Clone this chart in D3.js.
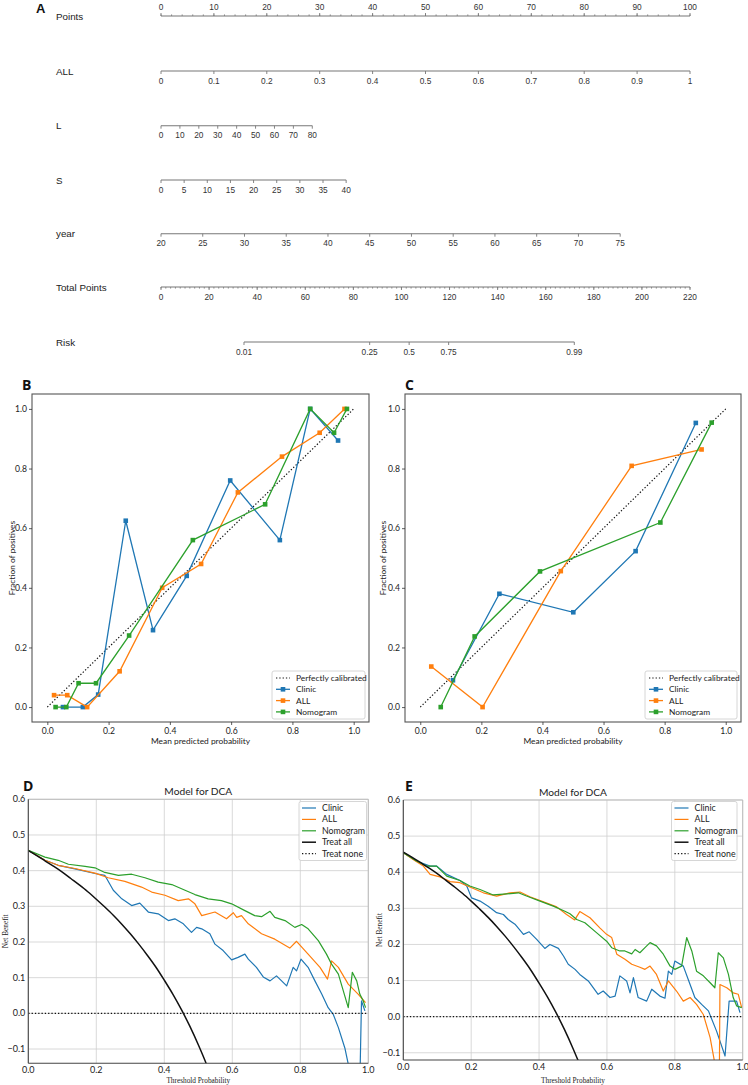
<!DOCTYPE html>
<html><head><meta charset="utf-8">
<script src="https://cdn.jsdelivr.net/npm/d3@7"></script>
<style>body{margin:0;background:#fff} svg{display:block}</style>
</head><body><svg id="c" width="748" height="1085"></svg>
<script>
// ---------------- DATA ----------------
// Nomogram (panel A)
const nomoPointsTicks = [0,10,20,30,40,50,60,70,80,90,100];
const nomoAllTicks = ["0","0.1","0.2","0.3","0.4","0.5","0.6","0.7","0.8","0.9","1"];
const nomoLTicks = [0,10,20,30,40,50,60,70,80];
const nomoSTicks = [0,5,10,15,20,25,30,35,40];
const nomoYearTicks = [20,25,30,35,40,45,50,55,60,65,70,75];
const nomoTotalTicks = [0,20,40,60,80,100,120,140,160,180,200,220];
const nomoRiskTicks = ["0.01","0.25","0.5","0.75","0.99"];
const nomoVarNames = ["ALL","L","S","year"];
const nomoVarMaxPoints = [100, 28.6, 35.0, 86.8];   // points at top of each variable
const nomoRiskCenterPoints = 103.2;  // total points where risk = 0.5
const nomoRiskSlope = 0.0669;        // logit per total point

// Calibration B
const calBClinicX = [0.051,0.116,0.166,0.256,0.345,0.455,0.597,0.759,0.858,0.949];
const calBClinicY = [0,0,0.042,0.625,0.258,0.44,0.76,0.56,1.0,0.894];
const calBAllX = [0.022,0.065,0.13,0.236,0.375,0.502,0.622,0.766,0.889,0.970];
const calBAllY = [0.04,0.04,0,0.12,0.40,0.48,0.72,0.84,0.92,1.0];
const calBNomX = [0.027,0.062,0.102,0.159,0.267,0.475,0.711,0.858,0.936,0.978];
const calBNomY = [0,0,0.08,0.08,0.24,0.56,0.68,1.0,0.92,1.0];
// Calibration C
const calCClinicX = [0.107,0.259,0.501,0.705,0.902];
const calCClinicY = [0.09,0.38,0.318,0.523,0.953];
const calCAllX = [0.036,0.204,0.46,0.692,0.921];
const calCAllY = [0.136,0,0.456,0.809,0.864];
const calCNomX = [0.067,0.178,0.392,0.786,0.954];
const calCNomY = [0,0.237,0.455,0.619,0.954];
const calTicks = [0,0.2,0.4,0.6,0.8,1.0];

// DCA D  [threshold, net benefit]
const dcaDClinic = [[0,0.457],[0.049,0.429],[0.088,0.415],[0.137,0.405],[0.196,0.392],[0.225,0.387],[0.25,0.345],[0.275,0.321],[0.304,0.302],[0.328,0.309],[0.353,0.284],[0.382,0.279],[0.412,0.260],[0.431,0.265],[0.456,0.251],[0.48,0.227],[0.495,0.241],[0.51,0.237],[0.534,0.223],[0.549,0.194],[0.573,0.176],[0.598,0.150],[0.617,0.157],[0.637,0.166],[0.647,0.152],[0.671,0.129],[0.691,0.102],[0.711,0.091],[0.73,0.105],[0.76,0.077],[0.779,0.129],[0.789,0.119],[0.802,0.152],[0.823,0.129],[0.843,0.091],[0.863,0.054],[0.882,0.016],[0.897,-0.003],[0.912,-0.04],[0.931,-0.097],[0.945,-0.16],[0.955,-0.25],[0.974,-0.25],[0.98,0.035],[0.99,0.007]];
const dcaDAll = [[0,0.457],[0.049,0.429],[0.088,0.415],[0.137,0.406],[0.196,0.393],[0.235,0.380],[0.284,0.370],[0.333,0.354],[0.363,0.340],[0.402,0.331],[0.441,0.316],[0.471,0.321],[0.49,0.307],[0.51,0.274],[0.549,0.284],[0.583,0.265],[0.603,0.282],[0.613,0.269],[0.627,0.274],[0.647,0.251],[0.686,0.223],[0.725,0.208],[0.769,0.183],[0.789,0.202],[0.823,0.166],[0.858,0.129],[0.88,0.096],[0.892,0.147],[0.912,0.129],[0.941,0.082],[0.970,0.054],[0.992,0.030]];
const dcaDNom = [[0,0.457],[0.049,0.438],[0.088,0.429],[0.118,0.418],[0.167,0.412],[0.196,0.408],[0.225,0.395],[0.265,0.387],[0.304,0.39],[0.343,0.380],[0.382,0.368],[0.422,0.361],[0.461,0.345],[0.49,0.333],[0.529,0.321],[0.568,0.316],[0.598,0.307],[0.637,0.288],[0.666,0.274],[0.686,0.271],[0.711,0.286],[0.725,0.269],[0.755,0.260],[0.784,0.241],[0.804,0.249],[0.823,0.237],[0.853,0.204],[0.877,0.166],[0.892,0.138],[0.912,0.110],[0.941,0.016],[0.953,0.115],[0.966,0.091],[0.975,0.054],[0.985,0.035],[0.992,0.016]];
// DCA E
const dcaEClinic = [[0,0.454],[0.039,0.431],[0.079,0.417],[0.098,0.417],[0.128,0.394],[0.167,0.377],[0.187,0.362],[0.201,0.329],[0.226,0.320],[0.25,0.306],[0.275,0.288],[0.295,0.283],[0.309,0.269],[0.329,0.256],[0.354,0.228],[0.371,0.235],[0.393,0.214],[0.417,0.189],[0.432,0.200],[0.457,0.189],[0.472,0.168],[0.486,0.145],[0.506,0.131],[0.52,0.117],[0.545,0.099],[0.574,0.062],[0.589,0.071],[0.609,0.053],[0.624,0.057],[0.638,0.113],[0.658,0.099],[0.668,0.066],[0.678,0.108],[0.692,0.053],[0.717,0.043],[0.732,0.076],[0.756,0.057],[0.771,0.051],[0.781,0.126],[0.791,0.117],[0.80,0.154],[0.825,0.140],[0.845,0.089],[0.859,0.053],[0.879,0.034],[0.899,0.016],[0.923,-0.040],[0.948,-0.109],[0.96,0.043],[0.982,0.043],[0.992,0.011]];
const dcaEAll = [[0,0.454],[0.029,0.435],[0.059,0.417],[0.079,0.394],[0.108,0.387],[0.138,0.374],[0.167,0.371],[0.196,0.359],[0.236,0.343],[0.275,0.334],[0.314,0.343],[0.344,0.345],[0.373,0.332],[0.413,0.318],[0.452,0.304],[0.481,0.283],[0.505,0.268],[0.52,0.291],[0.55,0.274],[0.579,0.246],[0.599,0.228],[0.614,0.219],[0.629,0.173],[0.653,0.159],[0.673,0.145],[0.697,0.137],[0.712,0.131],[0.727,0.140],[0.746,0.117],[0.766,0.071],[0.781,0.099],[0.805,0.071],[0.825,0.043],[0.845,0.053],[0.864,0.034],[0.884,0.006],[0.904,-0.058],[0.918,-0.13],[0.931,-0.2],[0.933,0.089],[0.953,0.080],[0.972,0.066],[0.987,0.062],[0.997,0.025]];
const dcaENom = [[0,0.454],[0.039,0.431],[0.069,0.417],[0.098,0.417],[0.128,0.389],[0.167,0.377],[0.196,0.362],[0.226,0.352],[0.265,0.337],[0.305,0.340],[0.339,0.343],[0.363,0.334],[0.403,0.320],[0.442,0.306],[0.476,0.292],[0.491,0.285],[0.511,0.269],[0.535,0.260],[0.57,0.232],[0.599,0.209],[0.614,0.191],[0.638,0.182],[0.653,0.182],[0.673,0.174],[0.683,0.186],[0.697,0.177],[0.712,0.191],[0.727,0.205],[0.746,0.196],[0.766,0.173],[0.786,0.140],[0.80,0.131],[0.82,0.140],[0.835,0.219],[0.85,0.182],[0.864,0.126],[0.884,0.113],[0.904,0.094],[0.918,0.080],[0.928,0.177],[0.943,0.163],[0.958,0.117],[0.972,0.053],[0.982,0.030],[0.997,0.025]];
// Treat all
const treatAllT  = [0,0.025,0.05,0.075,0.1,0.125,0.15,0.175,0.2,0.225,0.25,0.275,0.3,0.325,0.35,0.375,0.4,0.425,0.45,0.475,0.5,0.525,0.55];
const treatAllNB = [0.456,0.442,0.427,0.412,0.396,0.378,0.360,0.341,0.320,0.298,0.275,0.250,0.223,0.194,0.163,0.130,0.093,0.054,0.011,-0.036,-0.088,-0.145,-0.211];
const dcaXTicks = [0,0.2,0.4,0.6,0.8,1.0];
const dcaYTicks = [-0.1,0,0.1,0.2,0.3,0.4,0.5,0.6];
const seriesNames = ["Clinic","ALL","Nomogram"];
const seriesColors = ["#1f77b4","#ff7f0e","#2ca02c"];

// ---------------- DRAW ----------------
const svg = d3.select("#c");
const NF = "'Liberation Sans Narrow','Liberation Sans',Arial,sans-serif";
const MF = "Lato,'Open Sans','Noto Sans',sans-serif";
const SF = "'Liberation Serif','DejaVu Serif',serif";

// ===== Panel A: nomogram =====
(function(){
  const x0 = 161, x1 = 690;
  const g = svg.append("g");
  const xPts = d3.scaleLinear().domain([0,100]).range([x0,x1]);
  const xTot = d3.scaleLinear().domain([0,220]).range([x0,x1]);
  const logit = p => Math.log(p/(1-p));
  const riskX = p => xTot(nomoRiskCenterPoints + logit(p)/nomoRiskSlope);
  const varScale = (i, dom) => d3.scaleLinear().domain(dom).range([x0, xPts(nomoVarMaxPoints[i])]);
  const rows = [
    {label:"Points", y:16, sc:xPts, ticks:nomoPointsTicks.map(d=>[d,String(d)]), minor:d3.range(0,101,2), above:true},
    {label:"ALL", y:71, sc:varScale(0,[0,1]), ticks:nomoAllTicks.map(d=>[+d,d])},
    {label:"L", y:125.7, sc:varScale(1,[0,80]), ticks:nomoLTicks.map(d=>[d,String(d)])},
    {label:"S", y:180, sc:varScale(2,[0,40]), ticks:nomoSTicks.map(d=>[d,String(d)])},
    {label:"year", y:233.7, sc:varScale(3,[20,75]), ticks:nomoYearTicks.map(d=>[d,String(d)])},
    {label:"Total Points", y:287, sc:xTot, ticks:nomoTotalTicks.map(d=>[d,String(d)]), minor:d3.range(0,221,2)},
    {label:"Risk", y:342, sc:riskX, ticks:nomoRiskTicks.map(d=>[+d,d]), risk:true}
  ];
  g.append("text").attr("x",36).attr("y",13).text("A").attr("font-family","'Liberation Sans',Arial,sans-serif")
    .attr("font-weight","bold").attr("font-size",13).attr("fill","#111");
  rows.forEach(r=>{
    g.append("text").attr("x",56).attr("y",r.y+3.5).text(r.label).attr("font-family",NF).attr("font-size",9.8).attr("fill","#222");
    const ends = r.risk ? [r.sc(0.01), r.sc(0.99)] : [r.sc(r.ticks[0][0]), r.sc(r.ticks[r.ticks.length-1][0])];
    g.append("line").attr("x1",ends[0]).attr("x2",ends[1]).attr("y1",r.y).attr("y2",r.y)
      .attr("stroke","#777").attr("stroke-width",1.1);
    const dir = r.above ? -1 : 1;
    if (r.minor) {
      g.selectAll(null).data(r.minor).join("line")
        .attr("x1",d=>r.sc(d)).attr("x2",d=>r.sc(d)).attr("y1",r.y).attr("y2",r.y+dir*1.6)
        .attr("stroke","#777").attr("stroke-width",0.8);
    }
    g.selectAll(null).data(r.ticks).join("line")
      .attr("x1",d=>r.sc(d[0])).attr("x2",d=>r.sc(d[0])).attr("y1",r.y).attr("y2",r.y+dir*3)
      .attr("stroke","#777").attr("stroke-width",0.9);
    g.selectAll(null).data(r.ticks).join("text")
      .attr("x",d=>r.sc(d[0])).attr("y",r.above ? r.y-6 : r.y+12.5)
      .attr("text-anchor","middle").text(d=>d[1])
      .attr("font-family",NF).attr("font-size",8.3).attr("fill","#333");
  });
})();

// ===== Calibration panels =====
function calibPanel(o){
  const g = svg.append("g");
  const x = d3.scaleLinear().domain([-0.05,1.05]).range([o.x0,o.x1]);
  const y = d3.scaleLinear().domain([-0.05,1.05]).range([o.y1,o.y0]);
  const line = d3.line().x(d=>x(d[0])).y(d=>y(d[1]));
  g.append("path").datum([[0,0],[1,1]]).attr("d",line).attr("fill","none")
    .attr("stroke","#111").attr("stroke-width",1.2).attr("stroke-dasharray","1.3,2");
  o.series.forEach((s,k)=>{
    const pts = s.x.map((v,i)=>[v,s.y[i]]);
    g.append("path").datum(pts).attr("d",line).attr("fill","none")
      .attr("stroke",seriesColors[k]).attr("stroke-width",1.3);
    g.selectAll(null).data(pts).join("rect")
      .attr("x",d=>x(d[0])-2.3).attr("y",d=>y(d[1])-2.3).attr("width",4.6).attr("height",4.6)
      .attr("fill",seriesColors[k]);
  });
  g.append("rect").attr("x",o.x0).attr("y",o.y0).attr("width",o.x1-o.x0).attr("height",o.y1-o.y0)
    .attr("fill","none").attr("stroke","#555").attr("stroke-width",1.1);
  const xa = g.append("g").attr("transform",`translate(0,${o.y1})`)
    .call(d3.axisBottom(x).tickValues(calTicks).tickSize(3).tickPadding(3).tickFormat(d3.format(".1f")));
  const ya = g.append("g").attr("transform",`translate(${o.x0},0)`)
    .call(d3.axisLeft(y).tickValues(calTicks).tickSize(3).tickPadding(2).tickFormat(d3.format(".1f")));
  [xa,ya].forEach(a=>{
    a.select(".domain").remove();
    a.selectAll("line").attr("stroke","#333").attr("stroke-width",0.8);
    a.selectAll("text").attr("font-family",MF).attr("font-size",8.6).attr("fill","#222");
  });
  g.append("text").attr("x",(o.x0+o.x1)/2).attr("y",o.y1+21.5).attr("text-anchor","middle")
    .text("Mean predicted probability").attr("font-family",MF).attr("font-size",8.4).attr("fill","#222");
  g.append("text").attr("transform",`translate(${o.ylabX},${(o.y0+o.y1)/2}) rotate(-90)`).attr("text-anchor","middle")
    .text("Fraction of positives").attr("font-family",MF).attr("font-size",8.4).attr("fill","#222");
  g.append("text").attr("x",o.letterX).attr("y",o.y0-4).text(o.letter)
    .attr("font-family","'Open Sans','Noto Sans',sans-serif").attr("font-weight","bold").attr("font-size",14).attr("fill","#111");
  // legend
  const L = o.legend;
  const lg = g.append("g");
  lg.append("rect").attr("x",L.x).attr("y",L.y).attr("width",L.w).attr("height",48).attr("rx",2)
    .attr("fill","#fff").attr("fill-opacity",0.85).attr("stroke","#ccc").attr("stroke-width",0.8);
  const entries = [{name:"Perfectly calibrated",color:"#111",dash:true}].concat(seriesNames.map((n,k)=>({name:n,color:seriesColors[k]})));
  entries.forEach((e,i)=>{
    const yy = L.y + 7 + i*11.3;
    lg.append("line").attr("x1",L.x+4).attr("x2",L.x+18).attr("y1",yy).attr("y2",yy)
      .attr("stroke",e.color).attr("stroke-width",e.dash?1.2:1.3).attr("stroke-dasharray",e.dash?"1.3,2":null);
    if(!e.dash) lg.append("rect").attr("x",L.x+11-2.3).attr("y",yy-2.3).attr("width",4.6).attr("height",4.6).attr("fill",e.color);
    lg.append("text").attr("x",L.x+24).attr("y",yy+3).text(e.name)
      .attr("font-family",MF).attr("font-size",8.4).attr("fill","#222");
  });
}
calibPanel({x0:32,x1:369,y0:394,y1:722,letter:"B",letterX:22,ylabX:15,
  series:[{x:calBClinicX,y:calBClinicY},{x:calBAllX,y:calBAllY},{x:calBNomX,y:calBNomY}],
  legend:{x:272,y:671,w:93}});
calibPanel({x0:405,x1:741,y0:394,y1:722,letter:"C",letterX:405,ylabX:386,
  series:[{x:calCClinicX,y:calCClinicY},{x:calCAllX,y:calCAllY},{x:calCNomX,y:calCNomY}],
  legend:{x:645,y:671,w:92}});

// ===== DCA panels =====
function dcaPanel(o){
  const g = svg.append("g");
  const x = d3.scaleLinear().domain([0,1]).range([o.x0,o.x1]);
  const y = d3.scaleLinear().domain([o.ymin,0.6]).range([o.y1,o.y0]);
  const clipId = "clip"+o.letter;
  svg.append("clipPath").attr("id",clipId).append("rect")
    .attr("x",o.x0).attr("y",o.y0).attr("width",o.x1-o.x0).attr("height",o.y1-o.y0);
  // grid
  g.selectAll(null).data(dcaXTicks).join("line").attr("x1",d=>x(d)).attr("x2",d=>x(d))
    .attr("y1",o.y0).attr("y2",o.y1).attr("stroke","#cfcfcf").attr("stroke-width",0.8);
  g.selectAll(null).data(dcaYTicks).join("line").attr("y1",d=>y(d)).attr("y2",d=>y(d))
    .attr("x1",o.x0).attr("x2",o.x1).attr("stroke","#cfcfcf").attr("stroke-width",0.8);
  const line = d3.line().x(d=>x(d[0])).y(d=>y(d[1]));
  const pg = g.append("g").attr("clip-path",`url(#${clipId})`);
  o.series.forEach((s,k)=>{
    pg.append("path").datum(s).attr("d",line).attr("fill","none")
      .attr("stroke",seriesColors[k]).attr("stroke-width",1.2).attr("stroke-linejoin","round");
  });
  pg.append("path").datum(treatAllT.map((t,i)=>[t,treatAllNB[i]])).attr("d",d3.line().x(d=>x(d[0])).y(d=>y(d[1])).curve(d3.curveMonotoneX))
    .attr("fill","none").attr("stroke","#111").attr("stroke-width",1.5);
  pg.append("line").attr("x1",x(0)).attr("x2",x(1)).attr("y1",y(0)).attr("y2",y(0))
    .attr("stroke","#111").attr("stroke-width",1.2).attr("stroke-dasharray","1.3,2");
  // spines
  g.append("line").attr("x1",o.x0).attr("x2",o.x1).attr("y1",o.y0).attr("y2",o.y0).attr("stroke","#bdbdbd").attr("stroke-width",1);
  g.append("line").attr("x1",o.x1).attr("x2",o.x1).attr("y1",o.y0).attr("y2",o.y1).attr("stroke","#bdbdbd").attr("stroke-width",1);
  g.append("line").attr("x1",o.x0).attr("x2",o.x0).attr("y1",o.y0).attr("y2",o.y1).attr("stroke","#444").attr("stroke-width",1.1);
  g.append("line").attr("x1",o.x0).attr("x2",o.x1).attr("y1",o.y1).attr("y2",o.y1).attr("stroke","#444").attr("stroke-width",1.1);
  // tick labels
  g.selectAll(null).data(dcaXTicks).join("text").attr("x",d=>x(d)).attr("y",o.y1+9.5)
    .attr("text-anchor","middle").text(d3.format(".1f")).attr("font-family",MF).attr("font-size",9).attr("fill","#222");
  g.selectAll(null).data(dcaYTicks.filter(d=>d>=o.ymin)).join("text").attr("x",o.x0-3).attr("y",d=>y(d)+3)
    .attr("text-anchor","end").text(d3.format(".1f")).attr("font-family",MF).attr("font-size",9).attr("fill","#222");
  g.append("text").attr("x",(o.x0+o.x1)/2).attr("y",o.y0-4.5).attr("text-anchor","middle").text("Model for DCA")
    .attr("font-family",MF).attr("font-size",10.2).attr("fill","#222");
  g.append("text").attr("x",(o.x0+o.x1)/2).attr("y",1083).attr("text-anchor","middle").text("Threshold Probability")
    .attr("font-family",SF).attr("font-size",7.3).attr("fill","#222");
  g.append("text").attr("transform",`translate(${o.ylabX},${(o.y0+o.y1)/2}) rotate(-90)`).attr("text-anchor","middle")
    .text("Net Benefit").attr("font-family",SF).attr("font-size",7.3).attr("fill","#222");
  g.append("text").attr("x",o.letterX).attr("y",791).text(o.letter)
    .attr("font-family","'Open Sans','Noto Sans',sans-serif").attr("font-weight","bold").attr("font-size",14).attr("fill","#111");
  // legend
  const L = o.legend;
  const lg = g.append("g");
  lg.append("rect").attr("x",L.x).attr("y",L.y).attr("width",L.w).attr("height",59).attr("rx",2)
    .attr("fill","#fff").attr("fill-opacity",0.85).attr("stroke","#ccc").attr("stroke-width",0.8);
  const entries = seriesNames.map((n,k)=>({name:n,color:seriesColors[k]}))
    .concat([{name:"Treat all",color:"#111",w:1.5},{name:"Treat none",color:"#111",dash:true}]);
  entries.forEach((e,i)=>{
    const yy = L.y + 6.5 + i*11.4;
    lg.append("line").attr("x1",L.x+3).attr("x2",L.x+17).attr("y1",yy).attr("y2",yy)
      .attr("stroke",e.color).attr("stroke-width",e.w||1.2).attr("stroke-dasharray",e.dash?"1.3,2":null);
    lg.append("text").attr("x",L.x+23).attr("y",yy+3).text(e.name)
      .attr("font-family",MF).attr("font-size",8.8).attr("fill","#222");
  });
}
dcaPanel({x0:28.3,x1:368.3,y0:799.3,y1:1063.3,ymin:-0.14,letter:"D",letterX:23,ylabX:7.5,
  series:[dcaDClinic,dcaDAll,dcaDNom],legend:{x:299,y:801.5,w:67.5}});
dcaPanel({x0:403.3,x1:742.7,y0:800,y1:1060,ymin:-0.12,letter:"E",letterX:405,ylabX:381.5,
  series:[dcaEClinic,dcaEAll,dcaENom],legend:{x:671.5,y:801.5,w:65.5}});
</script></body></html>
